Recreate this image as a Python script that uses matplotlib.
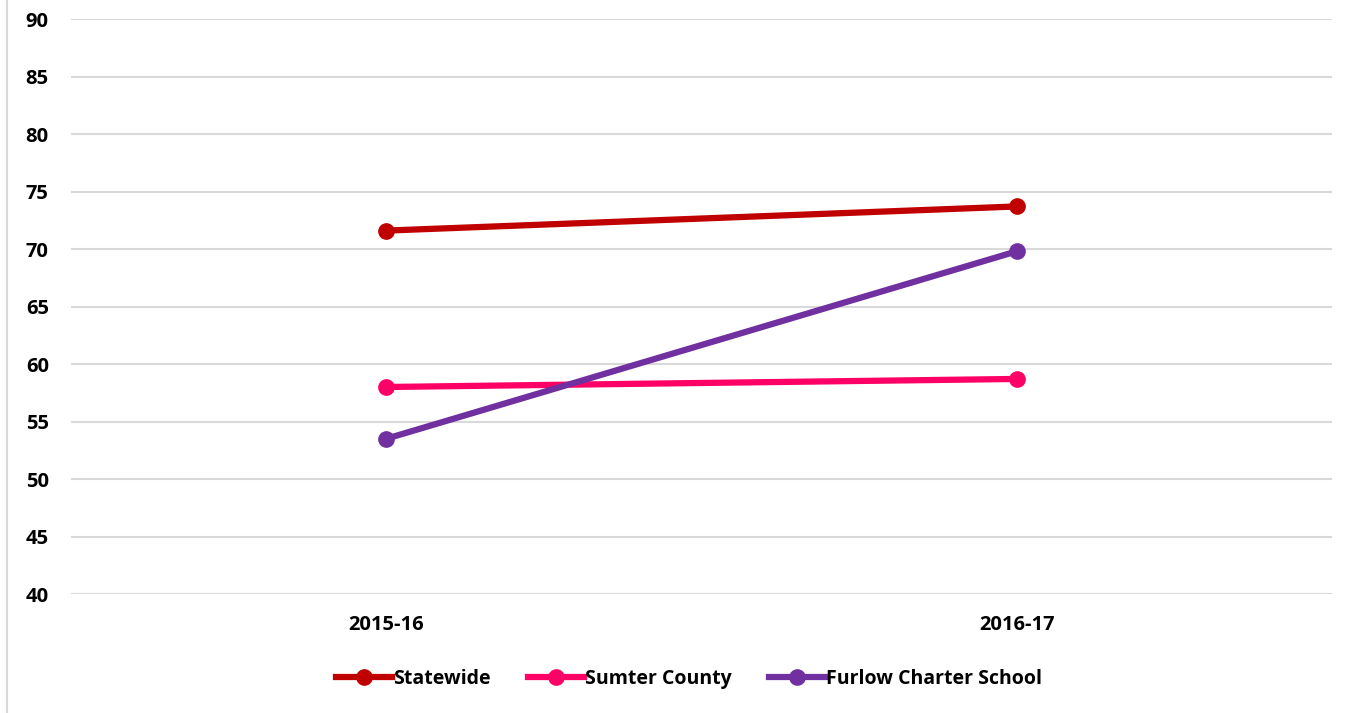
import matplotlib.pyplot as plt
from matplotlib.patches import Rectangle
from matplotlib.lines import Line2D

years = ['2015-16', '2016-17']
statewide = [71.6, 73.7]
sumter = [58.0, 58.7]
furlow = [53.5, 69.8]

series = [
    ('Statewide', statewide, '#C00000'),
    ('Sumter County', sumter, '#FF0066'),
    ('Furlow Charter School', furlow, '#7030A0'),
]

plt.rcParams['font.family'] = ['Open Sans', 'DejaVu Sans']
plt.rcParams['font.weight'] = 'bold'

W, H = 1364, 713
fig = plt.figure(figsize=(W / 100, H / 100), dpi=100)
ax = fig.add_axes([71 / W, 1 - 594 / H, (1332 - 71) / W, (594 - 19) / H])

x = [0, 1]
for name, vals, col in series:
    ax.plot(x, vals, color=col, linewidth=4.5, marker='o', markersize=11,
            solid_capstyle='round', label=name, zorder=3)

ax.set_xlim(-0.5, 1.5)
ax.set_ylim(40, 90)
ax.set_yticks(range(40, 91, 5))
ax.set_xticks(x)
ax.set_xticklabels(years)
ax.grid(axis='y', color='#D9D9D9', linewidth=1.5)
ax.set_axisbelow(True)
for s in ax.spines.values():
    s.set_visible(False)
ax.tick_params(length=0, labelsize=14.5, colors='black')
ax.tick_params(axis='y', pad=16)
ax.tick_params(axis='x', pad=15)
for lab in ax.get_xticklabels() + ax.get_yticklabels():
    lab.set_fontweight('bold')

handles = [Line2D([], [], color=c, linewidth=4.5, marker='o', markersize=11) for _, _, c in series]
fig.legend(handles, [n for n, _, _ in series], loc='center', bbox_to_anchor=(0.505, 1 - 679 / H),
           ncol=3, frameon=False, handlelength=2.9, handletextpad=0.05,
           columnspacing=1.9, prop={'weight': 'bold', 'size': 14})

fig.patches.append(Rectangle((7 / W, -0.01), 1.0, 1.02, transform=fig.transFigure,
                             fill=False, edgecolor='#D9D9D9', linewidth=1.5))

fig.savefig('out.png', dpi=100)
